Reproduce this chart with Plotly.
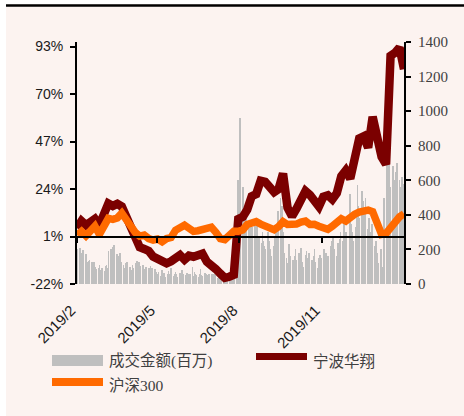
import pandas as pd
import plotly.graph_objects as go

# ---------------- data ----------------
name_vol = "成交金额(百万)"
name_stock = "宁波华翔"
name_index = "沪深300"

# line sample dates: every 5 days from 2019-02-01
line_dates = pd.date_range("2019-02-01", periods=74, freq="5D")

stock_pct = [5.0, 8.5, 6.5, 8.5, 9.5, 6.5, 13, 17, 15.8, 16.8,
             15.5, 10.5, 4, -1.5, -4.2, -5, -6, -8.7, -10.2, -11,
             -12, -11, -9.5, -8.0, -10.2, -8.3, -8.8, -8, -7.3, -11.2,
             -12.7, -14.8, -17, -19, -18.5, -17.6, 9.5, 10.5, 14, 20.5,
             21.5, 28, 27.5, 24.5, 22.5, 24, 31.5, 15, 10.8, 14.5,
             18.5, 23, 21.1, 19, 15.5, 20.3, 21, 19, 22, 30.2,
             33, 29, 38, 48.5, 49.5, 44, 59, 48, 39.6, 36,
             88.5, 90, 92.5, 82]

index_pct = [1.7, 3.5, 1.3, 4, 6, 2, 6, 9.8, 9.3, 10,
             12.3, 9, 6.3, 3, 1.2, 1.7, 0, -0.7, -0.2, -1.5,
             0, 0.5, 4, 4.8, 6.5, 5, 3.5, 3.8, 4.5, 5.2,
             5.5, 3, 0, -0.5, 1.5, 3.5, 3.5, 4.2, 6.8, 7.8,
             8.2, 7, 5.8, 4.8, 4.3, 5.8, 8.2, 6.8, 6.6, 7,
             8, 8.5, 6.8, 6.9, 6, 5.2, 4.5, 6, 7.4, 9.6,
             8.5, 10.4, 11.8, 12.8, 13.4, 13.8, 13, 8, 2, 2.5,
             5.5, 8, 10.5, 12]

# daily turnover (million), weekdays 2019-02-01 .. 2020-01-31
vol_dates = pd.bdate_range("2019-02-01", "2020-01-31")
vol_feb = [200, 210, 165, 180, 150, 195, 175, 130, 120, 135, 140, 125, 110, 130, 100, 85, 95, 110, 80, 75]
vol_mar = [90, 75, 105, 110, 95, 190, 205, 185, 215, 225, 200, 175, 160, 150, 180, 125, 110, 95, 120, 105, 130]
vol_apr = [100, 80, 75, 110, 95, 120, 135, 115, 130, 105, 90, 110, 85, 70, 100, 95, 80, 105, 75, 90, 85, 70]
vol_may = [60, 55, 70, 45, 80, 50, 65, 40, 55, 75, 60, 50, 95, 45, 60, 70, 55, 40, 65, 50, 80, 60, 45]
vol_jun = [50, 65, 40, 55, 60, 100, 45, 70, 55, 50, 40, 60, 85, 50, 45, 65, 55, 40, 50, 60]
vol_jul = [45, 55, 40, 60, 50, 35, 45, 55, 40, 50, 60, 45, 35, 50, 40, 55, 45, 60, 50, 40, 70, 250, 600]
vol_aug = [580, 960, 560, 500, 450, 420, 380, 340, 360, 300, 330, 290, 350, 310, 340, 260, 280, 240, 300, 250, 220, 200]
vol_sep = [300, 180, 250, 200, 160, 220, 280, 330, 250, 420, 500, 380, 450, 300, 180, 150, 120, 200, 230, 160, 140]
vol_oct = [120, 160, 200, 140, 180, 150, 210, 130, 100, 170, 190, 150, 120, 180, 140, 110, 160, 200, 130, 90, 150, 170, 120]
vol_nov = [150, 200, 120, 180, 100, 160, 220, 250, 180, 270, 200, 160, 240, 210, 260, 300, 250, 380, 220, 300, 270]
vol_dec = [280, 520, 350, 300, 250, 330, 400, 570, 450, 380, 540, 480, 350, 420, 500, 320, 380, 300, 260, 350, 220, 240]
vol_jan = [250, 180, 120, 200, 150, 100, 130, 500, 700, 650, 990, 620, 560, 680, 600, 540, 650, 700, 600, 560, 520, 620, 580]
volume = (vol_feb + vol_mar + vol_apr + vol_may + vol_jun + vol_jul +
          vol_aug + vol_sep + vol_oct + vol_nov + vol_dec + vol_jan)

x_tick_vals = ["2019-02-01", "2019-05-01", "2019-08-01", "2019-11-01"]
x_tick_text = ["2019/2", "2019/5", "2019/8", "2019/11"]
y_tick_vals = [-22, 1, 24, 47, 70, 93]
y_tick_text = ["-22%", "1%", "24%", "47%", "70%", "93%"]
vol_tick_vals = [0, 200, 400, 600, 800, 1000, 1200, 1400]

# ---------------- style ----------------
PINK = "#FCF3F0"
GREY = "#BFBFBF"
DARKRED = "#7B0000"
ORANGE = "#FF6A00"
SANS = "Liberation Sans, Arial, sans-serif"
SERIF = "Liberation Serif, Noto Sans CJK SC, serif"

# trailing non-breaking spaces nudge the rotated labels down-left of their ticks
label_text = [t + "\u00a0\u00a0" for t in x_tick_text]

fig = go.Figure()
# volume bars on the (right-side) base axis 'y' so the lines (on 'y2') draw above them
fig.add_trace(go.Bar(x=vol_dates, y=volume, name=name_vol, yaxis="y",
                     marker=dict(color=GREY, line=dict(width=0)),
                     width=86400000 * 0.75, showlegend=False))
fig.add_trace(go.Scatter(x=line_dates, y=stock_pct, name=name_stock, mode="lines", yaxis="y2",
                         line=dict(color=DARKRED, width=8.5), showlegend=False))
fig.add_trace(go.Scatter(x=line_dates, y=index_pct, name=name_index, mode="lines", yaxis="y2",
                         line=dict(color=ORANGE, width=7.5), showlegend=False))
# helper trace so the 1%-level axis (xaxis2) is drawn
fig.add_trace(go.Scatter(x=[line_dates[0]], y=[None], xaxis="x2", yaxis="y2",
                         mode="lines", showlegend=False, hoverinfo="skip"))

x_range = ["2019-02-01", "2020-02-01"]
y_range = [-22, 95.2]
zero_pos = (1 - y_range[0]) / (y_range[1] - y_range[0])

# plot area: x 77..404, y 42..284 in a 464x416 page
L, R, T, B = 77, 60, 42, 132
W, H = 464, 416
pw, ph = W - L - R, H - T - B


def px(x):
    return (x - L) / pw


def py(y):
    return (H - B - y) / ph


shapes = [
    dict(type="rect", xref="paper", yref="paper", x0=px(-5), x1=px(6), y0=py(H + 5), y1=py(-5),
         fillcolor="white", line=dict(width=0), layer="below"),
    dict(type="rect", xref="paper", yref="paper", x0=px(-5), x1=px(W + 5), y0=py(4), y1=py(-5),
         fillcolor="white", line=dict(width=0), layer="below"),
    dict(type="line", xref="paper", yref="paper", x0=px(6), x1=px(W + 5), y0=py(5.5), y1=py(5.5),
         line=dict(color="black", width=2.5)),
    # legend swatches
    dict(type="rect", xref="paper", yref="paper", x0=px(52), x1=px(103), y0=py(366), y1=py(355),
         fillcolor=GREY, line=dict(width=0)),
    dict(type="rect", xref="paper", yref="paper", x0=px(256), x1=px(307), y0=py(360), y1=py(353),
         fillcolor=DARKRED, line=dict(width=0)),
    dict(type="rect", xref="paper", yref="paper", x0=px(52), x1=px(103), y0=py(386), y1=py(378),
         fillcolor=ORANGE, line=dict(width=0)),
]

leg_font = dict(family=SERIF, size=15.5, color="#404040")
annotations = [
    dict(xref="paper", yref="paper", x=px(107), y=py(361), text=name_vol, showarrow=False,
         xanchor="left", yanchor="middle", font=leg_font),
    dict(xref="paper", yref="paper", x=px(311), y=py(361), text=name_stock, showarrow=False,
         xanchor="left", yanchor="middle", font=leg_font),
    dict(xref="paper", yref="paper", x=px(107), y=py(385), text=name_index, showarrow=False,
         xanchor="left", yanchor="middle", font=leg_font),
]

fig.update_layout(
    width=W, height=H,
    margin=dict(l=L, r=R, t=T, b=B, pad=0),
    paper_bgcolor=PINK, plot_bgcolor="rgba(0,0,0,0)",
    bargap=0,
    shapes=shapes, annotations=annotations,
    showlegend=False,
    xaxis=dict(type="date", range=x_range, tickvals=x_tick_vals, ticktext=label_text,
               tickangle=-45, ticks="", showline=False, showgrid=False, zeroline=False,
               tickfont=dict(family=SANS, size=15, color="#1a1a1a"), ticklabelstandoff=8),
    xaxis2=dict(type="date", overlaying="x", matches="x", anchor="free", position=zero_pos,
                range=x_range, tickvals=x_tick_vals, showticklabels=False,
                ticks="outside", ticklen=5, tickwidth=2, tickcolor="black",
                showline=True, linecolor="black", linewidth=2, showgrid=False, zeroline=False),
    yaxis=dict(range=[0, 1400], tickvals=vol_tick_vals, side="right",
               showline=True, linecolor="black", linewidth=2, ticks="outside", ticklen=5,
               tickwidth=2, tickcolor="black", showgrid=False, zeroline=False,
               tickfont=dict(family=SERIF, size=15, color="#404040"), ticklabelstandoff=4),
    yaxis2=dict(range=y_range, tickvals=y_tick_vals, ticktext=y_tick_text,
                overlaying="y", side="left",
                showline=True, linecolor="black", linewidth=2, ticks="outside", ticklen=5,
                tickwidth=2, tickcolor="black", showgrid=False, zeroline=False,
                tickfont=dict(family=SANS, size=14, color="#1a1a1a"), ticklabelstandoff=4),
)

fig.write_html("out.html", config={"displayModeBar": False},
               post_script="document.body.style.margin='0';")
